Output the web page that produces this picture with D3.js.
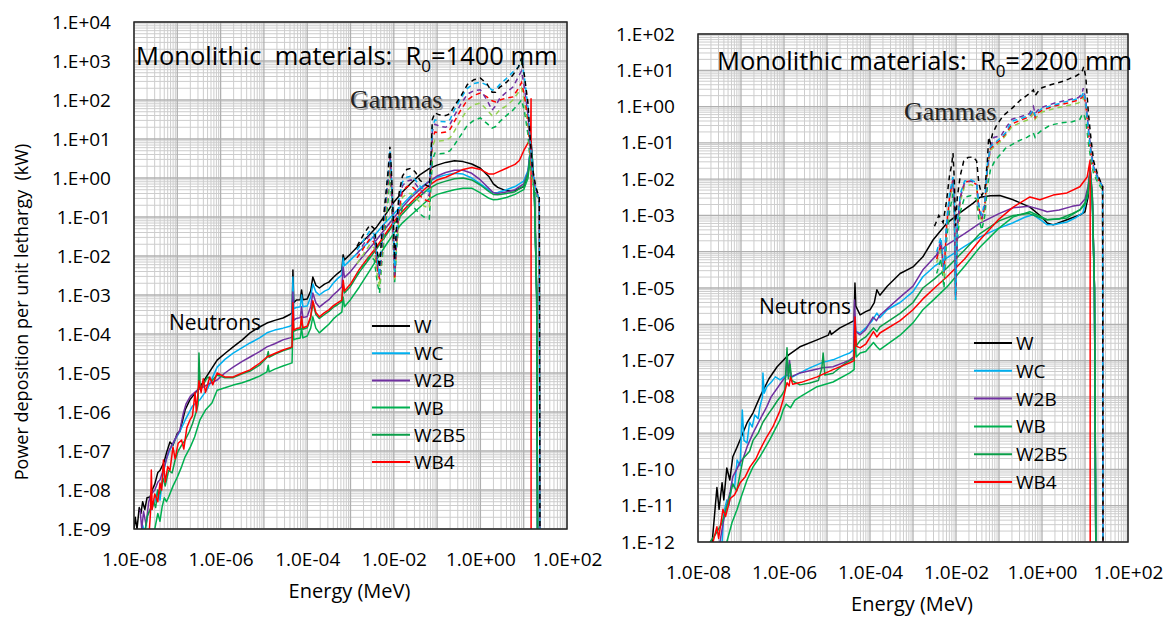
<!DOCTYPE html>
<html>
<head>
<meta charset="utf-8">
<script src="https://cdn.jsdelivr.net/npm/d3@7"></script>
<style>
  body { margin: 0; background: #fff; }
  text { font-family: "Open Sans", sans-serif; fill: #000; }
</style>
</head>
<body>
<svg id="chart" width="1169" height="617"></svg>
<script>
// values are [log10(Energy MeV), log10(Power kW)]

const materials = ["W", "WC", "W2B", "WB", "W2B5", "WB4"];

// ---------- left panel, R0 = 1400 mm ----------
const W_L = [[-8.0,-9.0],[-7.97,-8.7],[-7.93,-9.0],[-7.88,-8.45],[-7.84,-8.6],[-7.8,-8.3],[-7.75,-8.5],[-7.7,-8.2],[-7.63,-8.18],[-7.58,-8.0],[-7.52,-7.85],[-7.45,-7.55],[-7.4,-7.5],[-7.31,-7.3],[-7.25,-7.05],[-7.17,-6.77],[-7.1,-6.85],[-7.0,-6.55],[-6.94,-6.5],[-6.82,-5.95],[-6.71,-5.69],[-6.48,-5.36],[-6.3,-5.05],[-6.08,-4.67],[-5.9,-4.5],[-5.71,-4.33],[-5.5,-4.15],[-5.32,-3.97],[-5.1,-3.82],[-4.93,-3.72],[-4.75,-3.65],[-4.56,-3.59],[-4.4,-3.5],[-4.35,-3.46],[-4.33,-2.36],[-4.31,-3.2],[-4.25,-3.13],[-4.16,-3.12],[-4.13,-2.87],[-4.1,-3.12],[-4.0,-3.1],[-3.92,-2.9],[-3.87,-2.54],[-3.8,-2.75],[-3.72,-2.82],[-3.6,-2.72],[-3.5,-2.67],[-3.4,-2.55],[-3.3,-2.45],[-3.2,-2.36],[-3.17,-1.97],[-3.14,-2.1],[-3.0,-1.95],[-2.8,-1.72],[-2.6,-1.5],[-2.4,-1.26],[-2.2,-0.95],[-2.0,-0.62],[-1.8,-0.36],[-1.6,-0.13],[-1.4,0.08],[-1.2,0.23],[-1.0,0.33],[-0.8,0.40],[-0.6,0.44],[-0.4,0.42],[-0.2,0.36],[0.0,0.25],[0.2,0.03],[0.3,-0.15],[0.4,-0.24],[0.6,-0.33],[0.8,-0.32],[1.0,-0.22],[1.1,0.1],[1.17,0.95],[1.2,0.5],[1.25,-0.5],[1.3,-3.0],[1.33,-12]];
const WC_L = [[-7.86,-9.3],[-7.8,-8.9],[-7.75,-9.1],[-7.68,-8.6],[-7.6,-8.5],[-7.52,-8.3],[-7.45,-8.0],[-7.4,-8.26],[-7.33,-7.6],[-7.25,-7.2],[-7.17,-6.97],[-7.05,-6.7],[-6.94,-6.5],[-6.82,-6.21],[-6.65,-5.85],[-6.48,-5.69],[-6.3,-5.4],[-6.08,-4.85],[-5.9,-4.65],[-5.71,-4.49],[-5.5,-4.35],[-5.32,-4.23],[-5.1,-4.1],[-4.93,-3.97],[-4.75,-3.9],[-4.56,-3.85],[-4.4,-3.8],[-4.35,-3.77],[-4.33,-2.54],[-4.31,-3.35],[-4.25,-3.32],[-4.16,-3.3],[-4.13,-3.0],[-4.1,-3.3],[-4.0,-3.28],[-3.92,-3.05],[-3.87,-2.72],[-3.8,-2.92],[-3.72,-3.0],[-3.6,-2.9],[-3.5,-2.85],[-3.4,-2.7],[-3.3,-2.58],[-3.2,-2.49],[-3.17,-2.05],[-3.14,-2.25],[-3.0,-2.1],[-2.8,-1.88],[-2.6,-1.66],[-2.4,-1.41],[-2.2,-1.15],[-2.0,-0.92],[-1.8,-0.68],[-1.6,-0.45],[-1.4,-0.26],[-1.2,-0.1],[-1.0,0.02],[-0.8,0.08],[-0.6,0.12],[-0.4,0.1],[-0.2,0.0],[0.0,-0.15],[0.2,-0.31],[0.3,-0.38],[0.4,-0.37],[0.6,-0.3],[0.8,-0.22],[1.0,-0.08],[1.1,0.2],[1.17,0.9],[1.2,0.5],[1.25,-0.4],[1.3,-3.0],[1.33,-12]];
const W2B_L = [[-7.86,-8.5],[-7.82,-9.0],[-7.78,-8.55],[-7.72,-8.9],[-7.66,-8.3],[-7.6,-8.1],[-7.52,-8.0],[-7.45,-7.8],[-7.4,-7.74],[-7.3,-7.4],[-7.2,-7.0],[-7.1,-6.8],[-6.94,-6.46],[-6.86,-6.03],[-6.8,-5.8],[-6.7,-5.6],[-6.55,-5.45],[-6.3,-5.3],[-6.08,-5.18],[-5.9,-5.0],[-5.71,-4.85],[-5.5,-4.7],[-5.32,-4.59],[-5.1,-4.45],[-4.93,-4.33],[-4.75,-4.25],[-4.56,-4.15],[-4.4,-4.1],[-4.35,-4.08],[-4.33,-2.92],[-4.31,-3.65],[-4.25,-3.6],[-4.16,-3.58],[-4.13,-3.3],[-4.1,-3.58],[-4.0,-3.55],[-3.92,-3.3],[-3.87,-2.95],[-3.8,-3.2],[-3.72,-3.31],[-3.6,-3.2],[-3.5,-3.12],[-3.4,-3.0],[-3.3,-2.9],[-3.2,-2.79],[-3.17,-2.28],[-3.14,-2.55],[-3.0,-2.4],[-2.8,-2.12],[-2.6,-1.86],[-2.4,-1.59],[-2.2,-1.3],[-2.0,-1.02],[-1.8,-0.75],[-1.6,-0.5],[-1.4,-0.3],[-1.2,-0.1],[-1.0,0.05],[-0.8,0.14],[-0.6,0.2],[-0.4,0.2],[-0.2,0.12],[0.0,-0.05],[0.2,-0.27],[0.3,-0.38],[0.4,-0.4],[0.6,-0.36],[0.8,-0.3],[1.0,-0.15],[1.1,0.15],[1.17,0.85],[1.2,0.45],[1.25,-0.45],[1.3,-3.0],[1.33,-12]];
const WB_L = [[-7.52,-9.0],[-7.45,-8.6],[-7.4,-8.8],[-7.35,-8.43],[-7.3,-8.2],[-7.25,-8.3],[-7.2,-8.18],[-7.1,-7.9],[-7.0,-7.67],[-6.9,-7.4],[-6.82,-7.15],[-6.7,-6.9],[-6.6,-6.64],[-6.48,-6.21],[-6.35,-5.95],[-6.2,-5.77],[-6.08,-5.44],[-5.9,-5.38],[-5.71,-5.31],[-5.5,-5.25],[-5.32,-5.18],[-5.1,-5.08],[-4.93,-4.97],[-4.9,-4.8],[-4.88,-4.97],[-4.75,-4.9],[-4.56,-4.82],[-4.4,-4.76],[-4.35,-4.74],[-4.33,-3.8],[-4.31,-4.15],[-4.25,-4.12],[-4.16,-4.1],[-4.13,-3.85],[-4.1,-4.1],[-4.0,-4.05],[-3.92,-3.85],[-3.87,-3.56],[-3.8,-3.85],[-3.72,-3.97],[-3.6,-3.85],[-3.5,-3.75],[-3.4,-3.62],[-3.3,-3.52],[-3.2,-3.44],[-3.17,-3.05],[-3.14,-3.3],[-3.0,-3.12],[-2.8,-2.8],[-2.6,-2.45],[-2.4,-2.1],[-2.2,-1.75],[-2.0,-1.42],[-1.8,-1.15],[-1.6,-0.95],[-1.4,-0.75],[-1.2,-0.55],[-1.0,-0.42],[-0.8,-0.36],[-0.6,-0.3],[-0.4,-0.26],[-0.2,-0.26],[0.0,-0.38],[0.2,-0.52],[0.3,-0.56],[0.4,-0.55],[0.6,-0.5],[0.8,-0.42],[1.0,-0.3],[1.1,0.0],[1.17,0.75],[1.2,0.3],[1.25,-0.6],[1.3,-3.0],[1.33,-12]];
const W2B5_L = [[-7.75,-9.1],[-7.7,-8.7],[-7.63,-8.5],[-7.55,-8.3],[-7.5,-8.45],[-7.45,-8.0],[-7.4,-8.1],[-7.33,-7.7],[-7.28,-7.9],[-7.2,-7.5],[-7.12,-7.56],[-7.05,-7.23],[-6.98,-7.0],[-6.9,-6.85],[-6.82,-6.72],[-6.72,-6.5],[-6.65,-6.3],[-6.55,-5.95],[-6.52,-5.8],[-6.5,-4.49],[-6.47,-5.4],[-6.4,-5.3],[-6.3,-5.1],[-6.2,-5.2],[-6.08,-5.05],[-5.9,-5.12],[-5.71,-5.12],[-5.5,-5.02],[-5.32,-4.95],[-5.1,-4.8],[-4.93,-4.6],[-4.9,-4.45],[-4.88,-4.6],[-4.75,-4.52],[-4.56,-4.43],[-4.4,-4.37],[-4.35,-4.35],[-4.33,-3.3],[-4.31,-3.93],[-4.25,-3.9],[-4.16,-3.88],[-4.13,-3.6],[-4.1,-3.88],[-4.0,-3.84],[-3.92,-3.6],[-3.87,-3.2],[-3.8,-3.5],[-3.72,-3.6],[-3.6,-3.5],[-3.5,-3.42],[-3.4,-3.32],[-3.3,-3.25],[-3.2,-3.17],[-3.17,-2.7],[-3.14,-2.95],[-3.0,-2.78],[-2.8,-2.42],[-2.6,-2.12],[-2.4,-1.82],[-2.2,-1.5],[-2.0,-1.18],[-1.8,-0.92],[-1.6,-0.68],[-1.4,-0.47],[-1.2,-0.28],[-1.0,-0.15],[-0.8,-0.08],[-0.6,-0.02],[-0.4,0.0],[-0.2,-0.05],[0.0,-0.18],[0.2,-0.35],[0.3,-0.42],[0.4,-0.43],[0.6,-0.4],[0.8,-0.35],[1.0,-0.2],[1.1,0.1],[1.17,0.8],[1.2,0.4],[1.25,-0.5],[1.3,-3.0],[1.33,-12]];
const WB4_L = [[-7.65,-9.1],[-7.62,-8.6],[-7.6,-7.49],[-7.58,-8.5],[-7.52,-8.1],[-7.45,-8.3],[-7.4,-7.82],[-7.36,-8.0],[-7.32,-7.23],[-7.28,-7.8],[-7.22,-7.4],[-7.17,-7.5],[-7.1,-6.9],[-7.05,-7.2],[-6.98,-6.8],[-6.9,-6.72],[-6.85,-6.95],[-6.78,-6.4],[-6.71,-6.21],[-6.65,-6.1],[-6.59,-5.5],[-6.56,-6.0],[-6.5,-5.2],[-6.45,-5.5],[-6.4,-5.15],[-6.35,-5.5],[-6.25,-5.1],[-6.18,-5.3],[-6.08,-5.0],[-5.9,-5.1],[-5.71,-5.1],[-5.5,-5.0],[-5.32,-4.92],[-5.1,-4.75],[-4.93,-4.59],[-4.75,-4.5],[-4.56,-4.41],[-4.4,-4.35],[-4.35,-4.33],[-4.33,-3.2],[-4.31,-3.9],[-4.25,-3.86],[-4.16,-3.84],[-4.13,-3.55],[-4.1,-3.84],[-4.0,-3.8],[-3.92,-3.55],[-3.87,-3.15],[-3.8,-3.45],[-3.72,-3.56],[-3.6,-3.45],[-3.5,-3.38],[-3.4,-3.28],[-3.3,-3.2],[-3.2,-3.13],[-3.17,-2.62],[-3.14,-2.9],[-3.0,-2.72],[-2.8,-2.35],[-2.6,-2.05],[-2.4,-1.77],[-2.2,-1.45],[-2.0,-1.12],[-1.8,-0.85],[-1.6,-0.62],[-1.4,-0.4],[-1.2,-0.2],[-1.0,-0.05],[-0.8,0.02],[-0.6,0.12],[-0.4,0.22],[-0.2,0.27],[0.0,0.22],[0.2,0.1],[0.3,0.1],[0.4,0.15],[0.6,0.25],[0.8,0.35],[0.9,0.45],[1.0,0.7],[1.1,0.9],[1.16,1.0],[1.17,2.03],[1.171,-12]];

const gW_L = [[-2.85,-1.75],[-2.7,-1.45],[-2.55,-1.2],[-2.45,-1.3],[-2.38,-1.9],[-2.33,-2.3],[-2.28,-1.5],[-2.2,-0.6],[-2.13,0.2],[-2.09,0.8],[-2.06,0.3],[-2.02,-0.8],[-1.98,-2.1],[-1.94,-1.3],[-1.88,-0.4],[-1.8,0.05],[-1.7,0.22],[-1.6,0.25],[-1.5,0.15],[-1.4,-0.05],[-1.3,-0.15],[-1.18,-0.23],[-1.14,0.6],[-1.11,1.5],[-1.05,1.67],[-0.95,1.62],[-0.8,1.6],[-0.7,1.65],[-0.6,1.85],[-0.45,2.1],[-0.3,2.4],[-0.15,2.52],[0.0,2.56],[0.15,2.42],[0.27,2.2],[0.35,2.2],[0.45,2.33],[0.6,2.45],[0.75,2.64],[0.88,2.85],[0.95,3.08],[1.02,2.6],[1.1,1.9],[1.15,1.0],[1.2,0.28],[1.28,-0.23],[1.36,-0.5],[1.38,-12]];
const gWC_L = [[-2.85,-1.85],[-2.7,-1.6],[-2.55,-1.35],[-2.45,-1.45],[-2.38,-2.1],[-2.33,-2.5],[-2.28,-1.7],[-2.2,-0.7],[-2.13,0.1],[-2.09,0.72],[-2.06,0.2],[-2.02,-1.0],[-1.98,-2.4],[-1.94,-1.5],[-1.88,-0.55],[-1.8,-0.1],[-1.7,0.02],[-1.6,0.05],[-1.5,-0.05],[-1.4,-0.2],[-1.3,-0.3],[-1.18,-0.35],[-1.14,0.5],[-1.11,1.3],[-1.05,1.49],[-0.95,1.45],[-0.8,1.44],[-0.7,1.5],[-0.6,1.75],[-0.45,2.05],[-0.3,2.3],[-0.15,2.42],[0.0,2.46],[0.15,2.38],[0.27,2.25],[0.35,2.28],[0.45,2.4],[0.6,2.55],[0.75,2.72],[0.88,2.85],[0.95,3.0],[1.02,2.55],[1.1,1.8],[1.15,0.9],[1.2,0.2],[1.28,-0.3],[1.36,-0.55],[1.38,-12]];
const gW2B_L = [[-2.85,-1.95],[-2.7,-1.7],[-2.55,-1.45],[-2.45,-1.55],[-2.38,-2.2],[-2.33,-2.55],[-2.28,-1.8],[-2.2,-0.8],[-2.13,0.0],[-2.09,0.65],[-2.06,0.1],[-2.02,-1.1],[-1.98,-2.5],[-1.94,-1.6],[-1.88,-0.65],[-1.8,-0.2],[-1.7,-0.08],[-1.6,-0.05],[-1.5,-0.15],[-1.4,-0.3],[-1.3,-0.4],[-1.18,-0.45],[-1.14,0.4],[-1.11,1.2],[-1.05,1.38],[-0.95,1.33],[-0.8,1.3],[-0.7,1.38],[-0.6,1.6],[-0.45,1.9],[-0.3,2.15],[-0.15,2.24],[0.0,2.26],[0.15,2.0],[0.27,1.74],[0.35,1.85],[0.45,2.05],[0.6,2.2],[0.75,2.33],[0.88,2.6],[0.95,2.75],[1.02,2.3],[1.1,1.6],[1.15,0.8],[1.2,0.15],[1.28,-0.3],[1.36,-0.55],[1.38,-12]];
const gWB4_L = [[-2.85,-2.05],[-2.7,-1.8],[-2.55,-1.55],[-2.45,-1.65],[-2.38,-2.3],[-2.33,-2.6],[-2.28,-1.9],[-2.2,-0.9],[-2.13,-0.1],[-2.09,0.55],[-2.06,0.0],[-2.02,-1.2],[-1.98,-2.6],[-1.94,-1.7],[-1.88,-0.8],[-1.8,-0.35],[-1.7,-0.22],[-1.6,-0.2],[-1.5,-0.3],[-1.4,-0.45],[-1.3,-0.55],[-1.18,-0.6],[-1.14,0.3],[-1.11,1.0],[-1.05,1.18],[-0.95,1.15],[-0.8,1.18],[-0.7,1.25],[-0.6,1.45],[-0.45,1.75],[-0.3,2.0],[-0.15,2.12],[0.0,2.18],[0.15,2.08],[0.27,1.98],[0.35,1.95],[0.45,2.0],[0.6,2.05],[0.75,2.08],[0.88,2.3],[0.95,2.45],[1.02,2.1],[1.1,1.5],[1.15,0.7],[1.2,0.1],[1.28,-0.3],[1.36,-0.55],[1.38,-12]];
const gW2B5_L = [[-2.85,-2.2],[-2.7,-1.95],[-2.55,-1.7],[-2.45,-1.8],[-2.38,-2.5],[-2.33,-2.8],[-2.28,-2.0],[-2.2,-1.0],[-2.13,-0.25],[-2.09,0.4],[-2.06,-0.15],[-2.02,-1.3],[-1.98,-2.65],[-1.94,-1.8],[-1.88,-0.95],[-1.8,-0.5],[-1.7,-0.4],[-1.6,-0.4],[-1.5,-0.5],[-1.4,-0.62],[-1.3,-0.72],[-1.18,-0.78],[-1.14,0.1],[-1.11,0.8],[-1.05,0.97],[-0.95,0.95],[-0.8,0.97],[-0.7,1.03],[-0.6,1.2],[-0.45,1.5],[-0.3,1.75],[-0.15,1.88],[0.0,1.92],[0.15,1.75],[0.27,1.6],[0.35,1.62],[0.45,1.75],[0.6,1.85],[0.75,2.0],[0.88,2.2],[0.95,2.3],[1.02,1.95],[1.1,1.3],[1.15,0.6],[1.2,0.0],[1.28,-0.35],[1.36,-0.6],[1.38,-12]];
const gWB_L = [[-2.85,-2.5],[-2.7,-2.25],[-2.55,-2.0],[-2.45,-2.1],[-2.38,-2.7],[-2.33,-2.95],[-2.28,-2.2],[-2.2,-1.3],[-2.13,-0.55],[-2.09,0.2],[-2.06,-0.4],[-2.02,-1.5],[-1.98,-2.67],[-1.94,-1.9],[-1.88,-1.1],[-1.8,-0.75],[-1.7,-0.7],[-1.6,-0.7],[-1.5,-0.8],[-1.4,-0.92],[-1.3,-1.0],[-1.18,-1.05],[-1.14,-0.2],[-1.11,0.45],[-1.05,0.64],[-0.95,0.62],[-0.8,0.64],[-0.7,0.7],[-0.6,0.85],[-0.45,1.1],[-0.3,1.35],[-0.15,1.48],[0.0,1.54],[0.15,1.4],[0.27,1.28],[0.35,1.32],[0.45,1.45],[0.6,1.6],[0.75,1.74],[0.88,1.9],[0.95,2.0],[1.02,1.7],[1.1,1.1],[1.15,0.4],[1.2,-0.1],[1.28,-0.4],[1.36,-0.65],[1.38,-12]];

// ---------- right panel, R0 = 2200 mm ----------
const W_R = [[-7.67,-12],[-7.56,-10.5],[-7.51,-11.1],[-7.44,-10.37],[-7.4,-10.84],[-7.33,-9.96],[-7.26,-10.29],[-7.19,-9.65],[-7.09,-9.38],[-7.02,-9.18],[-6.86,-8.72],[-6.72,-8.44],[-6.56,-8.0],[-6.35,-7.5],[-6.16,-7.17],[-5.9,-6.85],[-5.63,-6.62],[-5.23,-6.43],[-4.97,-6.3],[-4.93,-6.18],[-4.9,-6.28],[-4.7,-6.1],[-4.47,-5.96],[-4.37,-5.9],[-4.35,-4.86],[-4.33,-5.5],[-4.23,-5.74],[-4.1,-5.65],[-4.0,-5.6],[-3.9,-5.4],[-3.84,-5.05],[-3.77,-5.2],[-3.6,-4.95],[-3.3,-4.6],[-3.0,-4.42],[-2.77,-4.14],[-2.53,-3.67],[-2.21,-3.21],[-1.91,-2.93],[-1.6,-2.66],[-1.44,-2.5],[-1.2,-2.46],[-0.98,-2.45],[-0.67,-2.57],[-0.28,-2.77],[0.0,-3.05],[0.12,-3.21],[0.26,-3.26],[0.58,-3.12],[0.88,-2.99],[1.0,-2.9],[1.07,-2.5],[1.12,-1.7],[1.17,-2.5],[1.22,-5],[1.26,-14]];
const WC_R = [[-7.44,-12],[-7.4,-11.2],[-7.33,-10.84],[-7.28,-11.0],[-7.21,-10.37],[-7.15,-10.5],[-7.09,-9.74],[-7.02,-9.9],[-6.97,-8.36],[-6.93,-9.2],[-6.86,-9.27],[-6.8,-8.7],[-6.74,-8.83],[-6.68,-8.5],[-6.6,-8.6],[-6.56,-8.27],[-6.5,-8.0],[-6.49,-7.34],[-6.46,-7.9],[-6.4,-7.72],[-6.3,-7.6],[-6.2,-7.45],[-6.09,-7.53],[-5.95,-7.4],[-5.8,-7.45],[-5.63,-7.34],[-5.4,-7.2],[-5.1,-7.05],[-4.86,-6.98],[-4.6,-6.85],[-4.47,-6.79],[-4.38,-6.7],[-4.36,-5.8],[-4.33,-6.2],[-4.23,-6.24],[-4.1,-6.1],[-3.95,-5.9],[-3.84,-5.69],[-3.77,-5.82],[-3.6,-5.6],[-3.3,-5.4],[-3.0,-5.1],[-2.77,-4.69],[-2.5,-4.4],[-2.21,-4.17],[-1.8,-3.85],[-1.44,-3.59],[-1.0,-3.35],[-0.67,-3.2],[-0.4,-3.05],[-0.21,-2.98],[0.0,-3.15],[0.12,-3.26],[0.3,-3.25],[0.58,-3.18],[0.8,-3.05],[0.95,-2.93],[1.05,-2.5],[1.12,-1.8],[1.17,-2.6],[1.22,-5],[1.26,-14]];
const W2B_R = [[-7.49,-12],[-7.42,-11.5],[-7.33,-11.0],[-7.25,-10.6],[-7.19,-10.2],[-7.1,-10.0],[-7.02,-9.8],[-6.95,-9.7],[-6.85,-9.35],[-6.72,-9.0],[-6.56,-8.63],[-6.4,-8.27],[-6.3,-8.0],[-6.15,-7.75],[-6.02,-7.53],[-5.96,-7.45],[-5.93,-6.9],[-5.9,-7.4],[-5.87,-7.0],[-5.84,-7.45],[-5.63,-7.34],[-5.4,-7.28],[-5.1,-7.2],[-4.86,-7.17],[-4.6,-7.05],[-4.47,-6.98],[-4.38,-6.9],[-4.36,-5.33],[-4.33,-6.2],[-4.23,-6.29],[-4.1,-6.15],[-3.93,-5.8],[-3.85,-5.9],[-3.77,-5.75],[-3.3,-5.25],[-3.0,-4.95],[-2.77,-4.5],[-2.5,-4.15],[-2.21,-3.81],[-1.8,-3.5],[-1.44,-3.21],[-1.0,-2.95],[-0.67,-2.79],[-0.3,-2.75],[0.0,-2.85],[0.12,-2.9],[0.4,-2.85],[0.7,-2.75],[0.88,-2.71],[1.0,-2.55],[1.07,-2.2],[1.12,-1.7],[1.17,-2.4],[1.22,-5],[1.26,-14]];
const WB_R = [[-7.33,-12],[-7.21,-11.47],[-7.09,-11.1],[-7.02,-10.84],[-6.86,-10.29],[-6.72,-9.93],[-6.56,-9.65],[-6.33,-9.18],[-6.09,-8.63],[-6.02,-8.36],[-5.95,-8.2],[-5.85,-8.3],[-5.75,-8.1],[-5.63,-8.0],[-5.23,-7.72],[-4.86,-7.59],[-4.47,-7.34],[-4.37,-7.25],[-4.35,-6.24],[-4.32,-6.9],[-4.23,-6.79],[-4.1,-6.75],[-3.92,-6.5],[-3.84,-6.62],[-3.77,-6.7],[-3.3,-6.3],[-3.0,-5.96],[-2.77,-5.6],[-2.5,-5.3],[-2.21,-4.97],[-1.8,-4.4],[-1.44,-3.87],[-1.0,-3.35],[-0.67,-3.04],[-0.28,-2.9],[0.12,-3.12],[0.58,-3.07],[0.88,-2.85],[1.0,-2.7],[1.07,-2.4],[1.12,-1.9],[1.17,-2.6],[1.22,-5],[1.26,-14]];
const W2B5_R = [[-7.72,-12],[-7.6,-11.8],[-7.45,-11.5],[-7.3,-10.9],[-7.19,-10.4],[-7.1,-10.6],[-6.95,-9.7],[-6.8,-9.5],[-6.72,-9.2],[-6.6,-9.0],[-6.49,-8.7],[-6.35,-8.45],[-6.26,-8.3],[-6.15,-8.1],[-6.05,-7.95],[-5.98,-7.8],[-5.93,-6.65],[-5.9,-7.5],[-5.86,-7.1],[-5.82,-7.55],[-5.63,-7.67],[-5.4,-7.62],[-5.2,-7.55],[-5.12,-7.2],[-5.09,-6.79],[-5.05,-7.4],[-4.86,-7.35],[-4.6,-7.1],[-4.47,-7.0],[-4.37,-6.95],[-4.35,-6.0],[-4.32,-6.6],[-4.23,-6.45],[-4.1,-6.35],[-3.92,-6.1],[-3.84,-6.2],[-3.77,-6.07],[-3.3,-5.7],[-3.0,-5.4],[-2.77,-5.0],[-2.5,-4.75],[-2.21,-4.45],[-1.8,-3.95],[-1.44,-3.5],[-1.0,-3.15],[-0.67,-3.0],[-0.3,-2.95],[0.0,-3.08],[0.12,-3.12],[0.4,-3.1],[0.7,-2.95],[0.88,-2.85],[1.0,-2.65],[1.07,-2.3],[1.12,-1.75],[1.17,-2.5],[1.22,-5],[1.26,-14]];
const WB4_R = [[-7.65,-12],[-7.56,-11.58],[-7.52,-11.9],[-7.42,-11.1],[-7.36,-11.3],[-7.25,-10.8],[-7.15,-10.7],[-7.02,-10.37],[-6.9,-10.2],[-6.79,-9.93],[-6.65,-9.7],[-6.56,-9.46],[-6.4,-9.1],[-6.26,-8.83],[-6.1,-8.4],[-6.02,-8.08],[-5.97,-7.8],[-5.93,-7.61],[-5.88,-7.7],[-5.85,-7.45],[-5.8,-7.65],[-5.6,-7.6],[-5.23,-7.45],[-4.86,-7.25],[-4.47,-7.06],[-4.37,-7.0],[-4.35,-5.8],[-4.32,-6.6],[-4.23,-6.65],[-4.1,-6.55],[-3.92,-6.2],[-3.84,-6.35],[-3.77,-6.24],[-3.3,-5.9],[-3.0,-5.6],[-2.77,-5.3],[-2.5,-5.0],[-2.21,-4.69],[-1.8,-4.2],[-1.44,-3.67],[-1.0,-3.1],[-0.67,-2.77],[-0.28,-2.49],[-0.05,-2.57],[0.26,-2.44],[0.58,-2.38],[0.88,-2.21],[1.05,-1.94],[1.12,-1.47],[1.121,-14]];

const gW_R = [[-2.5,-3.3],[-2.4,-3.0],[-2.3,-3.2],[-2.22,-2.6],[-2.15,-1.9],[-2.1,-1.6],[-2.07,-1.28],[-2.04,-2.0],[-2.01,-3.3],[-1.97,-2.5],[-1.9,-1.9],[-1.82,-1.5],[-1.72,-1.4],[-1.6,-1.39],[-1.52,-1.5],[-1.47,-2.1],[-1.4,-2.45],[-1.33,-2.3],[-1.27,-1.5],[-1.24,-0.84],[-1.2,-1.0],[-1.15,-0.75],[-1.05,-0.5],[-0.9,-0.25],[-0.7,-0.05],[-0.5,0.18],[-0.3,0.35],[-0.2,0.46],[-0.16,0.3],[-0.1,0.4],[0.0,0.52],[0.2,0.6],[0.5,0.7],[0.8,0.85],[0.93,0.95],[0.97,1.1],[1.02,0.8],[1.08,-0.2],[1.14,-0.9],[1.2,-1.5],[1.3,-1.9],[1.41,-2.2],[1.42,-14]];
const gWC_R = [[-2.45,-4.0],[-2.35,-3.6],[-2.28,-4.58],[-2.22,-3.2],[-2.15,-2.4],[-2.07,-1.94],[-2.04,-2.6],[-2.01,-5.33],[-1.97,-3.2],[-1.9,-2.4],[-1.8,-2.05],[-1.65,-2.02],[-1.52,-2.1],[-1.47,-2.7],[-1.4,-3.0],[-1.33,-2.6],[-1.27,-1.6],[-1.2,-1.11],[-1.1,-1.0],[-0.95,-0.85],[-0.85,-0.73],[-0.7,-0.4],[-0.55,-0.35],[-0.3,-0.25],[-0.2,-0.09],[-0.16,-0.25],[-0.1,-0.15],[0.0,-0.05],[0.3,0.05],[0.6,0.15],[0.85,0.22],[0.93,0.3],[0.97,0.4],[1.02,0.1],[1.08,-0.7],[1.14,-1.3],[1.2,-1.7],[1.3,-2.0],[1.41,-2.2],[1.42,-14]];
const gW2B_R = [[-2.45,-4.1],[-2.35,-3.7],[-2.28,-4.5],[-2.22,-3.3],[-2.15,-2.5],[-2.07,-2.0],[-2.04,-2.7],[-2.01,-5.2],[-1.97,-3.3],[-1.9,-2.5],[-1.8,-2.1],[-1.65,-2.05],[-1.52,-2.15],[-1.47,-2.8],[-1.4,-3.1],[-1.33,-2.7],[-1.27,-1.7],[-1.2,-1.15],[-1.12,-0.85],[-0.95,-0.8],[-0.85,-0.6],[-0.7,-0.35],[-0.55,-0.3],[-0.3,-0.2],[-0.2,0.0],[-0.16,-0.2],[-0.1,-0.1],[0.0,-0.02],[0.3,0.1],[0.6,0.18],[0.85,0.25],[0.93,0.35],[0.96,0.51],[1.02,0.15],[1.08,-0.6],[1.14,-1.2],[1.2,-1.65],[1.3,-1.95],[1.41,-2.2],[1.42,-14]];
const gWB4_R = [[-2.45,-4.2],[-2.35,-3.8],[-2.28,-4.6],[-2.22,-3.3],[-2.15,-2.5],[-2.07,-2.0],[-2.04,-2.7],[-2.01,-5.3],[-1.97,-3.3],[-1.9,-2.5],[-1.8,-2.08],[-1.65,-2.05],[-1.52,-2.15],[-1.47,-2.8],[-1.4,-3.1],[-1.33,-2.7],[-1.27,-1.7],[-1.2,-1.15],[-1.1,-1.05],[-0.95,-0.9],[-0.85,-0.75],[-0.7,-0.48],[-0.55,-0.4],[-0.3,-0.28],[-0.2,-0.12],[-0.16,-0.3],[-0.1,-0.18],[0.0,-0.1],[0.3,0.02],[0.6,0.1],[0.85,0.18],[0.93,0.25],[0.97,0.35],[1.02,0.05],[1.08,-0.7],[1.14,-1.3],[1.2,-1.7],[1.3,-2.0],[1.41,-2.2],[1.42,-14]];
const gW2B5_R = [[-2.45,-4.3],[-2.35,-3.9],[-2.28,-4.7],[-2.22,-3.4],[-2.15,-2.6],[-2.07,-2.1],[-2.04,-2.8],[-2.01,-5.0],[-1.97,-3.4],[-1.9,-2.6],[-1.8,-2.2],[-1.65,-2.15],[-1.52,-2.25],[-1.47,-2.9],[-1.4,-3.2],[-1.33,-2.8],[-1.27,-1.8],[-1.2,-1.2],[-1.1,-1.1],[-0.95,-0.95],[-0.85,-0.8],[-0.7,-0.55],[-0.55,-0.47],[-0.3,-0.35],[-0.2,-0.2],[-0.16,-0.35],[-0.1,-0.25],[0.0,-0.15],[0.3,-0.05],[0.6,0.03],[0.85,0.1],[0.93,0.18],[0.97,0.25],[1.02,0.0],[1.08,-0.75],[1.14,-1.35],[1.2,-1.75],[1.3,-2.05],[1.41,-2.25],[1.42,-14]];
const gWB_R = [[-2.45,-4.6],[-2.35,-4.2],[-2.28,-5.0],[-2.22,-3.7],[-2.15,-2.9],[-2.07,-2.4],[-2.04,-3.0],[-2.01,-5.33],[-1.97,-3.7],[-1.9,-2.9],[-1.8,-2.5],[-1.65,-2.45],[-1.52,-2.55],[-1.47,-3.1],[-1.4,-3.4],[-1.33,-3.0],[-1.27,-2.2],[-1.2,-1.75],[-1.1,-1.5],[-0.95,-1.3],[-0.85,-1.15],[-0.7,-1.05],[-0.55,-0.95],[-0.35,-0.85],[-0.2,-0.73],[-0.16,-0.85],[-0.1,-0.75],[0.0,-0.65],[0.2,-0.51],[0.45,-0.45],[0.7,-0.42],[0.88,-0.35],[0.93,-0.23],[0.97,-0.2],[1.02,-0.4],[1.08,-1.0],[1.14,-1.5],[1.2,-1.85],[1.3,-2.1],[1.41,-2.3],[1.42,-14]];

const xTicks = [1e-8, 1e-6, 1e-4, 1e-2, 1, 1e2];
const yTicksL = [1e4, 1e3, 1e2, 1e1, 1, 1e-1, 1e-2, 1e-3, 1e-4, 1e-5, 1e-6, 1e-7, 1e-8, 1e-9];
const yTicksR = [1e2, 1e1, 1, 1e-1, 1e-2, 1e-3, 1e-4, 1e-5, 1e-6, 1e-7, 1e-8, 1e-9, 1e-10, 1e-11, 1e-12];

const colors = {
  W: "#000000", WC: "#00b0f0", W2B: "#7030a0",
  WB: "#00b050", W2B5: "#0a9e48", WB4: "#ff0000"
};
const gammaColors = {
  W: "#000000", WC: "#00b0f0", W2B: "#7030a0",
  WB: "#00b050", W2B5: "#92d050", WB4: "#ff0000"
};

const svg = d3.select("#chart");
svg.append("rect").attr("width", 1169).attr("height", 617).attr("fill", "#fff");

function expFormat(v, mant) {
  const e = Math.round(Math.log10(v));
  return mant + "E" + (e < 0 ? "-" : "+") + String(Math.abs(e)).padStart(2, "0");
}

function drawPanel(p) {
  const x = d3.scaleLog().domain([1e-8, 1e2]).range([p.x0, p.x1]);
  const y = d3.scaleLog().domain([p.yTicks[p.yTicks.length - 1], p.yTicks[0]]).range([p.y1, p.y0]);

  const g = svg.append("g");

  g.append("clipPath").attr("id", p.id + "-clip")
    .append("rect")
    .attr("x", p.x0).attr("y", p.y0)
    .attr("width", p.x1 - p.x0).attr("height", p.y1 - p.y0);

  const isMajor = v => Math.abs(Math.log10(v) - Math.round(Math.log10(v))) < 1e-6;

  // minor then major gridlines
  const xg = x.ticks(100);
  const yg = y.ticks(100);
  g.selectAll(".vminor").data(xg.filter(v => !isMajor(v))).enter().append("line")
    .attr("x1", d => x(d)).attr("x2", d => x(d)).attr("y1", p.y0).attr("y2", p.y1)
    .attr("stroke", "#cdcdcd").attr("stroke-width", 1);
  g.selectAll(".hminor").data(yg.filter(v => !isMajor(v))).enter().append("line")
    .attr("y1", d => y(d)).attr("y2", d => y(d)).attr("x1", p.x0).attr("x2", p.x1)
    .attr("stroke", "#cdcdcd").attr("stroke-width", 1);
  g.selectAll(".vmajor").data(xg.filter(isMajor)).enter().append("line")
    .attr("x1", d => x(d)).attr("x2", d => x(d)).attr("y1", p.y0).attr("y2", p.y1)
    .attr("stroke", "#b0b0b0").attr("stroke-width", 1.3);
  g.selectAll(".hmajor").data(yg.filter(isMajor)).enter().append("line")
    .attr("y1", d => y(d)).attr("y2", d => y(d)).attr("x1", p.x0).attr("x2", p.x1)
    .attr("stroke", "#b0b0b0").attr("stroke-width", 1.3);

  const line = d3.line()
    .x(d => x(Math.pow(10, d[0])))
    .y(d => y(Math.pow(10, d[1])));

  const curves = g.append("g").attr("clip-path", `url(#${p.id}-clip)`);

  const solidOrder = ["W", "WC", "W2B", "WB", "W2B5", "WB4"];
  solidOrder.forEach(m => {
    curves.append("path")
      .attr("d", line(p.neutrons[m]))
      .attr("fill", "none")
      .attr("stroke", colors[m])
      .attr("stroke-width", 1.5)
      .attr("stroke-linejoin", "round");
  });

  const dashOrder = ["WB", "W2B5", "WB4", "W2B", "WC", "W"];
  dashOrder.forEach(m => {
    curves.append("path")
      .attr("d", line(p.gammas[m]))
      .attr("fill", "none")
      .attr("stroke", gammaColors[m])
      .attr("stroke-width", 1.5)
      .attr("stroke-dasharray", "5,4");
  });

  // frame
  g.append("rect")
    .attr("x", p.x0).attr("y", p.y0)
    .attr("width", p.x1 - p.x0).attr("height", p.y1 - p.y0)
    .attr("fill", "none").attr("stroke", "#262626").attr("stroke-width", 1.5);

  // axes
  const yAxis = g.append("g")
    .attr("transform", `translate(${p.x0},0)`)
    .call(d3.axisLeft(y).tickValues(p.yTicks).tickSize(0).tickPadding(23)
      .tickFormat(d => expFormat(d, "1.")));
  const xAxis = g.append("g")
    .attr("transform", `translate(0,${p.y1})`)
    .call(d3.axisBottom(x).tickValues(xTicks).tickSize(0).tickPadding(24)
      .tickFormat(d => expFormat(d, "1.0")));
  [yAxis, xAxis].forEach(a => {
    a.select(".domain").remove();
    a.selectAll("text").attr("font-family", "Open Sans").attr("font-size", 19).attr("fill", "#000");
  });

  g.append("text")
    .attr("x", (p.x0 + p.x1) / 2 - 1).attr("y", p.xTitleY)
    .attr("text-anchor", "middle")
    .style("font-size", "20px")
    .text("Energy (MeV)");

  // title with subscript
  const t = g.append("text")
    .attr("x", p.titleX).attr("y", p.titleY)
    .style("font-size", "25.5px")
    .style("white-space", "pre");
  t.append("tspan").text(p.titleText + "R");
  t.append("tspan").attr("dy", 7).style("font-size", "17px").text("0");
  t.append("tspan").attr("dy", -7).text(p.titleTail);

  // Gammas label with shadow
  g.append("text")
    .attr("x", p.gamX + 1.5).attr("y", p.gamY + 1.5)
    .style("font-family", "'Liberation Serif', serif")
    .style("font-size", "26px")
    .style("fill", "#9a9a9a")
    .text("Gammas");
  g.append("text")
    .attr("x", p.gamX).attr("y", p.gamY)
    .style("font-family", "'Liberation Serif', serif")
    .style("font-size", "26px")
    .style("fill", "#222")
    .text("Gammas");

  g.append("text")
    .attr("x", p.neuX).attr("y", p.neuY)
    .style("font-size", "21px")
    .text("Neutrons");

  // legend
  const leg = g.append("g");
  materials.forEach((m, i) => {
    const cy = p.legY + i * p.legStep;
    leg.append("line")
      .attr("x1", p.legX).attr("x2", p.legX + 38)
      .attr("y1", cy).attr("y2", cy)
      .attr("stroke", colors[m]).attr("stroke-width", 2);
    leg.append("text")
      .attr("x", p.legX + 42).attr("y", cy + 7)
      .style("font-size", "19px")
      .text(m);
  });
}

drawPanel({
  id: "left", x0: 134, x1: 567, y0: 22, y1: 529,
  yTicks: yTicksL,
  neutrons: { W: W_L, WC: WC_L, W2B: W2B_L, WB: WB_L, W2B5: W2B5_L, WB4: WB4_L },
  gammas: { W: gW_L, WC: gWC_L, W2B: gW2B_L, WB: gWB_L, W2B5: gW2B5_L, WB4: gWB4_L },
  xTitleY: 598,
  titleX: 136, titleY: 65, titleText: "Monolithic  materials:  ", titleTail: "=1400 mm",
  gamX: 350, gamY: 108,
  neuX: 169, neuY: 330,
  legX: 372, legY: 326, legStep: 27.2
});

drawPanel({
  id: "right", x0: 698, x1: 1128, y0: 34, y1: 542,
  yTicks: yTicksR,
  neutrons: { W: W_R, WC: WC_R, W2B: W2B_R, WB: WB_R, W2B5: W2B5_R, WB4: WB4_R },
  gammas: { W: gW_R, WC: gWC_R, W2B: gW2B_R, WB: gWB_R, W2B5: gW2B5_R, WB4: gWB4_R },
  xTitleY: 611,
  titleX: 717, titleY: 70, titleText: "Monolithic materials:  ", titleTail: "=2200 mm",
  gamX: 904, gamY: 120,
  neuX: 759, neuY: 314,
  legX: 974, legY: 343, legStep: 27.8
});

// y axis title (left panel only)
svg.append("text")
  .attr("transform", "translate(28,312) rotate(-90)")
  .attr("text-anchor", "middle")
  .style("font-size", "18px")
  .style("white-space", "pre")
  .text("Power deposition per unit lethargy  (kW)");
</script>
</body>
</html>
